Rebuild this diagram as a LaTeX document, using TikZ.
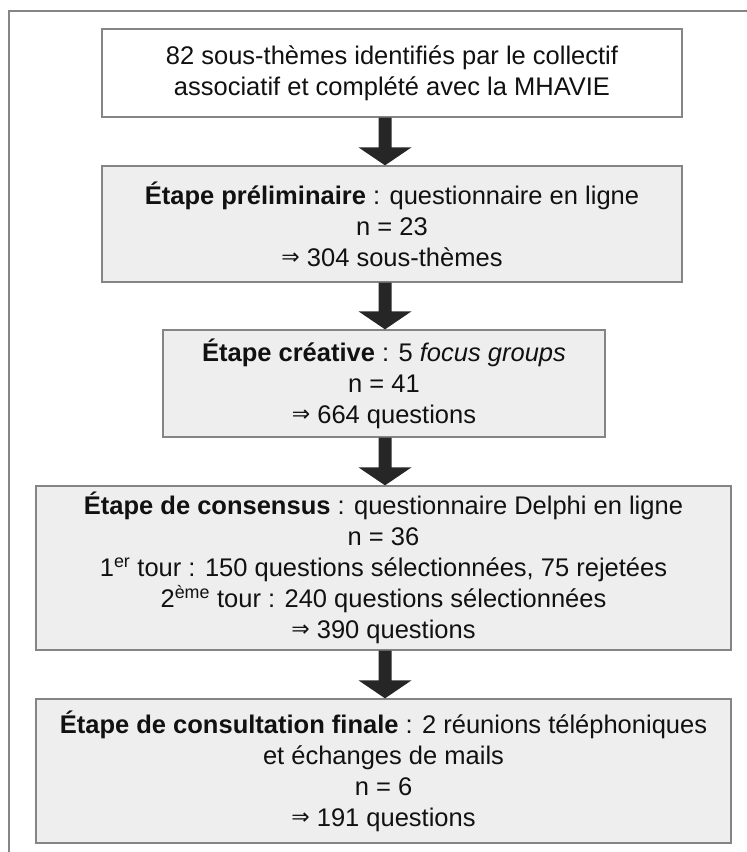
\documentclass[tikz,border=0pt]{standalone}
\usepackage{fontspec}
\setmainfont{Liberation Sans}
\newfontfamily\symfont{DejaVu Sans}
\usetikzlibrary{calc}
\definecolor{boxgrey}{HTML}{EEEEEE}
\definecolor{edgegrey}{HTML}{858585}
\definecolor{arrowdark}{HTML}{262626}
\definecolor{textdark}{HTML}{111111}
\newcommand\impl{\raisebox{2pt}{\symfont\fontsize{22}{22}\selectfont ⇒}}
\newcommand\blockarrow[2]{%
  \fill[arrowdark] let \p1=(#1.south), \p2=(#2.north) in
    (378.5pt,\y1) -- (391.5pt,\y1) -- (391.5pt,\y2+18pt) -- (411.5pt,\y2+18pt)
    -- (385pt,\y2) -- (358.5pt,\y2+18pt) -- (378.5pt,\y2+18pt) -- cycle;}
\begin{document}
\begin{tikzpicture}[x=1pt,y=-1pt,
  stagebox/.style={draw=edgegrey,line width=1.3pt,fill=boxgrey,align=center,
    inner sep=0pt,text=textdark,font=\fontsize{25.5}{31}\selectfont},
  whitebox/.style={stagebox,fill=white}]
\useasboundingbox (0,0) rectangle (747,852);
\fill[white] (0,0) rectangle (747,852);
\draw[edgegrey,line width=1.2pt] (9,852) -- (9,11) -- (747,11);
\node[whitebox,minimum width=580pt,minimum height=88pt] (b1) at (392,73)
  {82 sous-thèmes identifiés par le collectif\\associatif et complété avec la MHAVIE};
\node[stagebox,minimum width=580pt,minimum height=116pt] (b2) at (392,224)
  {\textbf{Étape préliminaire} : questionnaire en ligne\\n = 23\\\impl\ 304 sous-thèmes};
\node[stagebox,minimum width=442pt,minimum height=107pt] (b3) at (384,383.5)
  {\textbf{Étape créative} : 5 \textit{focus groups}\\n = 41\\\impl\ 664 questions};
\node[stagebox,minimum width=695pt,minimum height=164pt] (b4) at (383.5,568)
  {\textbf{Étape de consensus} : questionnaire Delphi en ligne\\n = 36\\
   1\textsuperscript{er} tour : 150 questions sélectionnées, 75 rejetées\\
   2\textsuperscript{ème} tour : 240 questions sélectionnées\\\impl\ 390 questions};
\node[stagebox,minimum width=695pt,minimum height=144pt] (b5) at (383.5,771)
  {\textbf{Étape de consultation finale} : 2 réunions téléphoniques\\et échanges de mails\\n = 6\\\impl\ 191 questions};
\blockarrow{b1}{b2}
\blockarrow{b2}{b3}
\blockarrow{b3}{b4}
\blockarrow{b4}{b5}
\end{tikzpicture}
\end{document}
